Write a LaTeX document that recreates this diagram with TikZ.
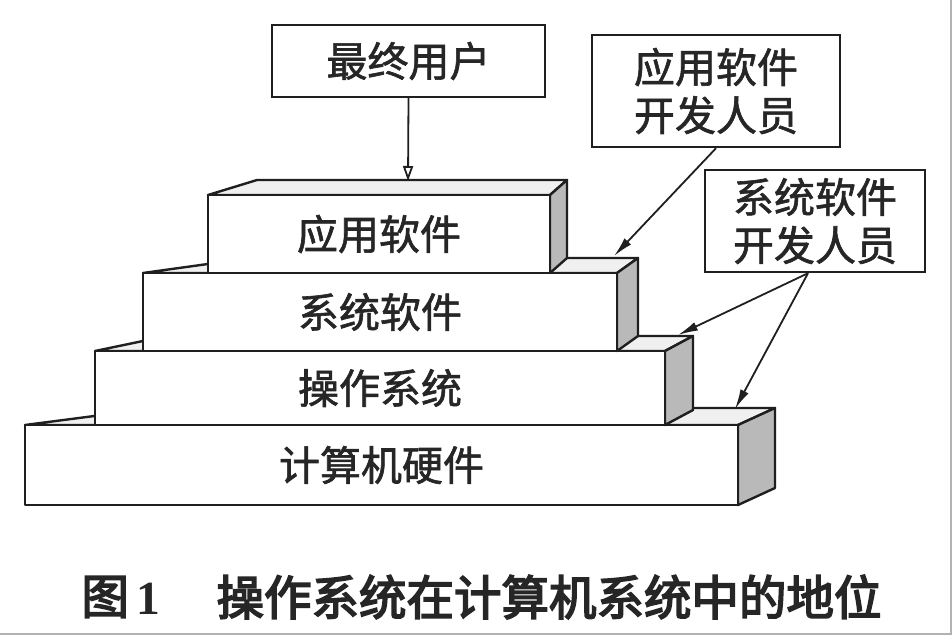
\documentclass[tikz,border=0pt]{standalone}
\usepackage{fontspec}
\newfontfamily\cjk[FakeBold=1.5]{Noto Sans CJK SC}
\newfontfamily\cjkcap[FakeBold=3.5]{Noto Sans CJK SC}
\newfontfamily\digitfont{Liberation Serif}
\usetikzlibrary{arrows.meta}

\tikzset{
  edge/.style={line width=2.4pt, draw=black!88, line join=round},
  frontface/.style={edge, fill=white},
  topface/.style={edge, fill=gray!12},
  sideface/.style={edge, fill=gray!55},
  lbl/.style={font=\cjk\fontsize{41}{48}\selectfont, text=black!85, inner sep=0pt},
  tagbox/.style={draw=black!88, line width=2.4pt, fill=white, align=center,
    font=\cjk\fontsize{41}{48}\selectfont, text=black!85, inner sep=0pt},
  captext/.style={font=\cjkcap\fontsize{47.5}{52}\selectfont, text=black!85, inner sep=0pt},
  userarrow/.style={line width=1.8pt, draw=black!88, -{Triangle[open,length=15pt,width=10pt]}},
  devarrow/.style={line width=1.8pt, draw=black!88, -{Latex[length=20pt,width=9pt]}},
}

% One layer of the stack: front rectangle, top face and shaded right face.
% #1,#2 = front top-left, #3,#4 = front bottom-right, #5,#6 = back-left / back-right x,
% #7 = back top y, #8 = node name, #9 = label
\newcommand\stacklayer[9]{%
  \draw[topface] (#1,#2) -- (#5,#7) -- (#6,#7) -- (#3,#2) -- cycle;
  \draw[sideface] (#3,#2) -- (#6,#7) -- (#6,{#4-#2+#7}) -- (#3,#4) -- cycle;
  \draw[frontface] (#1,#2) rectangle (#3,#4);
  \node[lbl] (#8) at ({(#1+#3)/2},{(#2+#4)/2}) {#9};
}

\begin{document}
\begin{tikzpicture}[x=1pt,y=-1pt]
  \fill[white] (0,0) rectangle (952,637);
  \useasboundingbox (0,0) rectangle (952,637);

  % the four layers, bottom first
  \stacklayer{25}{425}{738}{505}{156}{775}{408}{hw}{计算机硬件}
  \stacklayer{95}{351}{665}{425}{167}{693}{336}{os}{操作系统}
  \stacklayer{143}{273}{617}{351}{251}{638}{258}{syssw}{系统软件}
  \stacklayer{208}{195}{550}{273}{257}{567}{180}{appsw}{应用软件}

  % people using / building each layer
  \node[tagbox, minimum width=273pt, minimum height=72pt] (user) at (408.5,61) {最终用户};
  \node[tagbox, minimum width=248pt, minimum height=112pt] (appdev) at (716,91) {应用软件\\开发人员};
  \node[tagbox, minimum width=220pt, minimum height=102pt] (sysdev) at (815,221) {系统软件\\开发人员};

  % where the arrows land on the layer tops
  \coordinate (appTop) at (408,181);
  \coordinate (sysTop) at (614,256);
  \coordinate (osTop) at (678,335);
  \coordinate (hwTop) at (735,409);
  \coordinate (sysdevFoot) at ([xshift=-7pt]sysdev.south);

  \draw[userarrow] (user.south) -- (appTop);
  \draw[devarrow] (appdev.south) -- (sysTop);
  \draw[devarrow] (sysdevFoot) -- (osTop);
  \draw[devarrow] (sysdevFoot) -- (hwTop);

  % caption
  \node[captext] (fignum) at (121,597) {图\,{\digitfont\bfseries 1}};
  \node[captext] (caption) at (549,597) {操作系统在计算机系统中的地位};

  % page edge
  \draw[gray!60, line width=1.5pt] (951,0) -- (951,634) -- (0,634);
\end{tikzpicture}
\end{document}
